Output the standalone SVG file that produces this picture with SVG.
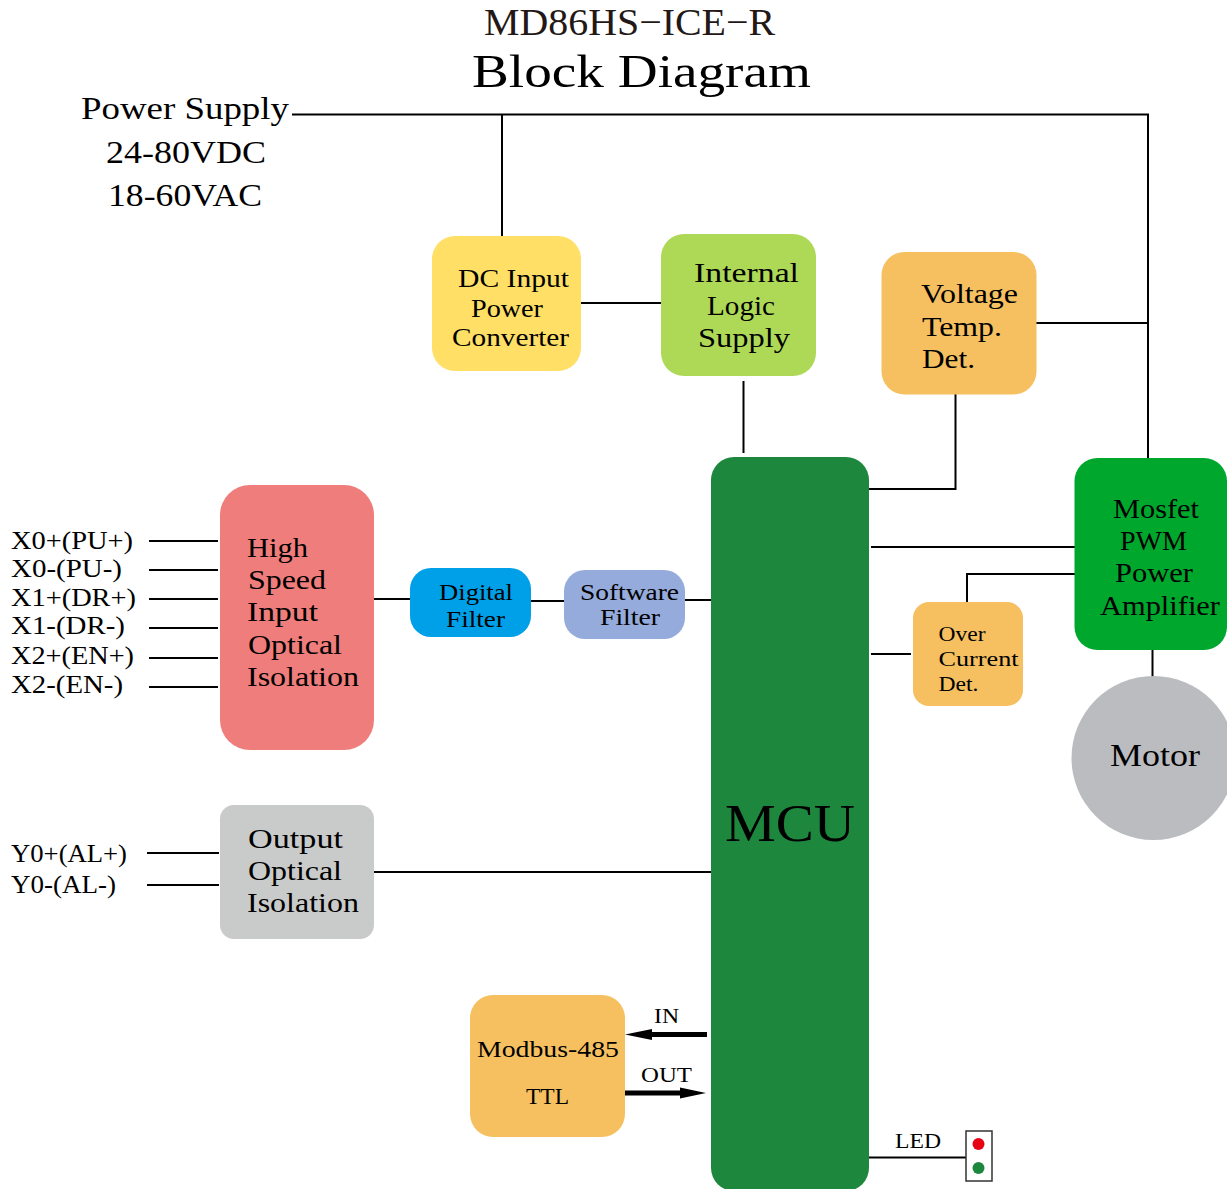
<svg xmlns="http://www.w3.org/2000/svg" width="1227" height="1189" viewBox="0 0 1227 1189">
<style>
text{font-family:"Liberation Serif","Times New Roman",serif;fill:#000}
.t32{font-size:32px}.t28{font-size:28px}.t26{font-size:26px}.t24{font-size:24px}.t22{font-size:22px}
.c line{stroke:#000;stroke-width:2;fill:none}
</style>
<rect width="1227" height="1189" fill="#fff"/>
<g id="title">
<text x="484" y="35" font-size="38" textLength="291" lengthAdjust="spacingAndGlyphs" style="fill:#231815">MD86HS−ICE−R</text>
<text x="472" y="87" font-size="47" textLength="339" lengthAdjust="spacingAndGlyphs">Block Diagram</text>
</g>
<g id="power-supply">
<text x="81" y="119" class="t32" textLength="208" lengthAdjust="spacingAndGlyphs">Power Supply</text>
<text x="106" y="163" class="t32" textLength="160" lengthAdjust="spacingAndGlyphs">24-80VDC</text>
<text x="108" y="206" class="t32" textLength="154" lengthAdjust="spacingAndGlyphs">18-60VAC</text>
</g>
<g class="c" id="connectors">
<line x1="292" y1="114.500" x2="1149" y2="114.500"/>
<line x1="502" y1="114" x2="502" y2="236"/>
<line x1="1148" y1="114" x2="1148" y2="458"/>
<line x1="581" y1="303" x2="661" y2="303"/>
<line x1="1036" y1="323" x2="1148" y2="323"/>
<line x1="743.500" y1="381" x2="743.500" y2="453"/>
<line x1="955.500" y1="394" x2="955.500" y2="490"/>
<line x1="868" y1="489" x2="956" y2="489"/>
<line x1="871" y1="547" x2="1075" y2="547"/>
<line x1="967" y1="574" x2="1075" y2="574"/>
<line x1="967" y1="573" x2="967" y2="602"/>
<line x1="871" y1="654" x2="911" y2="654"/>
<line x1="1152.500" y1="650" x2="1152.500" y2="677"/>
<line x1="149" y1="541" x2="218" y2="541"/>
<line x1="149" y1="570" x2="218" y2="570"/>
<line x1="149" y1="599" x2="218" y2="599"/>
<line x1="149" y1="628" x2="218" y2="628"/>
<line x1="149" y1="658" x2="218" y2="658"/>
<line x1="149" y1="687" x2="218" y2="687"/>
<line x1="374" y1="599" x2="410" y2="599"/>
<line x1="530" y1="601" x2="565" y2="601"/>
<line x1="685" y1="600" x2="712" y2="600"/>
<line x1="147" y1="853" x2="219" y2="853"/>
<line x1="147" y1="885" x2="219" y2="885"/>
<line x1="374" y1="872" x2="712" y2="872"/>
<line x1="868" y1="1157.500" x2="966" y2="1157.500"/>
<line x1="651" y1="1034.500" x2="707" y2="1034.500" style="stroke-width:5"/>
<line x1="625" y1="1093" x2="682" y2="1093" style="stroke-width:5"/>
<polygon points="625,1034.500 652,1029 652,1040" fill="#000"/>
<polygon points="706,1093 680,1087.500 680,1098.500" fill="#000"/>
</g>
<g id="dc-input"><rect x="432" y="236" width="149" height="135" rx="23" fill="#ffdf66"/>
<text x="458" y="287" class="t26" textLength="111" lengthAdjust="spacingAndGlyphs">DC Input</text>
<text x="471" y="317" class="t26" textLength="72" lengthAdjust="spacingAndGlyphs">Power</text>
<text x="452" y="346" class="t26" textLength="117" lengthAdjust="spacingAndGlyphs">Converter</text></g>
<g id="logic-supply"><rect x="661" y="234" width="155" height="142" rx="23" fill="#aed957"/>
<text x="694" y="282" class="t28" textLength="105" lengthAdjust="spacingAndGlyphs">Internal</text>
<text x="707" y="315" class="t28" textLength="68" lengthAdjust="spacingAndGlyphs">Logic</text>
<text x="698" y="347" class="t28" textLength="92" lengthAdjust="spacingAndGlyphs">Supply</text></g>
<g id="voltage-temp"><rect x="881.500" y="252" width="155" height="142.500" rx="23" fill="#f6c060"/>
<text x="921" y="303" class="t28" textLength="97" lengthAdjust="spacingAndGlyphs">Voltage</text>
<text x="922" y="336" class="t28" textLength="80" lengthAdjust="spacingAndGlyphs">Temp.</text>
<text x="922" y="368" class="t28" textLength="53" lengthAdjust="spacingAndGlyphs">Det.</text></g>
<g id="mcu"><rect x="711" y="457" width="158" height="734" rx="23" fill="#1d873e"/>
<text x="725" y="841" font-size="52" textLength="130" lengthAdjust="spacingAndGlyphs">MCU</text></g>
<g id="mosfet"><rect x="1074.500" y="458" width="152.500" height="192" rx="23" fill="#00a72d"/>
<text x="1113" y="518" class="t28" textLength="86" lengthAdjust="spacingAndGlyphs">Mosfet</text>
<text x="1120" y="550" class="t28" textLength="67" lengthAdjust="spacingAndGlyphs">PWM</text>
<text x="1115" y="582" class="t28" textLength="78" lengthAdjust="spacingAndGlyphs">Power</text>
<text x="1100" y="615" class="t28" textLength="120" lengthAdjust="spacingAndGlyphs">Amplifier</text></g>
<g id="motor"><circle cx="1153.500" cy="758" r="82" fill="#bbbcbf"/>
<text x="1110" y="766" font-size="31" textLength="90" lengthAdjust="spacingAndGlyphs">Motor</text></g>
<g id="over-current"><rect x="913" y="602" width="110" height="104" rx="16" fill="#f6c060"/>
<text x="938.500" y="641" class="t22" textLength="47" lengthAdjust="spacingAndGlyphs">Over</text>
<text x="938.500" y="666" class="t22" textLength="80" lengthAdjust="spacingAndGlyphs">Current</text>
<text x="938.500" y="691" class="t22" textLength="40" lengthAdjust="spacingAndGlyphs">Det.</text></g>
<g id="high-speed"><rect x="220" y="485" width="154" height="265" rx="30" fill="#ef7d7b"/>
<text x="247" y="557" class="t28" textLength="61" lengthAdjust="spacingAndGlyphs">High</text>
<text x="248" y="589" class="t28" textLength="78" lengthAdjust="spacingAndGlyphs">Speed</text>
<text x="247" y="621" class="t28" textLength="71" lengthAdjust="spacingAndGlyphs">Input</text>
<text x="248" y="654" class="t28" textLength="94" lengthAdjust="spacingAndGlyphs">Optical</text>
<text x="247" y="686" class="t28" textLength="112" lengthAdjust="spacingAndGlyphs">Isolation</text></g>
<g id="digital-filter"><rect x="410" y="568" width="121" height="69" rx="21" fill="#00a0e9"/>
<text x="439" y="600" class="t24" textLength="74" lengthAdjust="spacingAndGlyphs">Digital</text>
<text x="446" y="627" class="t24" textLength="59" lengthAdjust="spacingAndGlyphs">Filter</text></g>
<g id="software-filter"><rect x="564" y="570" width="121" height="69" rx="21" fill="#95abdb"/>
<text x="580" y="600" class="t24" textLength="99" lengthAdjust="spacingAndGlyphs">Software</text>
<text x="600" y="625" class="t24" textLength="60" lengthAdjust="spacingAndGlyphs">Filter</text></g>
<g id="output-iso"><rect x="220" y="805" width="154" height="134" rx="14" fill="#c9cbca"/>
<text x="248" y="848" class="t28" textLength="95" lengthAdjust="spacingAndGlyphs">Output</text>
<text x="248" y="880" class="t28" textLength="94" lengthAdjust="spacingAndGlyphs">Optical</text>
<text x="247" y="912" class="t28" textLength="112" lengthAdjust="spacingAndGlyphs">Isolation</text></g>
<g id="modbus"><rect x="470" y="995" width="155" height="142" rx="23" fill="#f6c060"/>
<text x="477" y="1057" class="t24" textLength="142" lengthAdjust="spacingAndGlyphs">Modbus-485</text>
<text x="526" y="1104" class="t24" textLength="43" lengthAdjust="spacingAndGlyphs">TTL</text></g>
<g id="inputs">
<text x="11" y="549" class="t26" textLength="122" lengthAdjust="spacingAndGlyphs">X0+(PU+)</text>
<text x="11" y="577" class="t26" textLength="111" lengthAdjust="spacingAndGlyphs">X0-(PU-)</text>
<text x="11" y="606" class="t26" textLength="125" lengthAdjust="spacingAndGlyphs">X1+(DR+)</text>
<text x="11" y="634" class="t26" textLength="114" lengthAdjust="spacingAndGlyphs">X1-(DR-)</text>
<text x="11" y="664" class="t26" textLength="123" lengthAdjust="spacingAndGlyphs">X2+(EN+)</text>
<text x="11" y="693" class="t26" textLength="112" lengthAdjust="spacingAndGlyphs">X2-(EN-)</text>
<text x="11" y="862" class="t26" textLength="116" lengthAdjust="spacingAndGlyphs">Y0+(AL+)</text>
<text x="11" y="893" class="t26" textLength="105" lengthAdjust="spacingAndGlyphs">Y0-(AL-)</text>
</g>
<g id="bus-labels">
<text x="654" y="1023" class="t22" textLength="25" lengthAdjust="spacingAndGlyphs">IN</text>
<text x="641" y="1082" class="t22" textLength="51" lengthAdjust="spacingAndGlyphs">OUT</text>
<text x="895" y="1148" class="t22" textLength="46" lengthAdjust="spacingAndGlyphs">LED</text>
</g>
<g id="led"><rect x="966" y="1131" width="26" height="50" fill="#fff" stroke="#333" stroke-width="1.500"/>
<circle cx="978.500" cy="1144" r="6" fill="#e60012"/><circle cx="978.500" cy="1168" r="6" fill="#1d873e"/></g>
</svg>
